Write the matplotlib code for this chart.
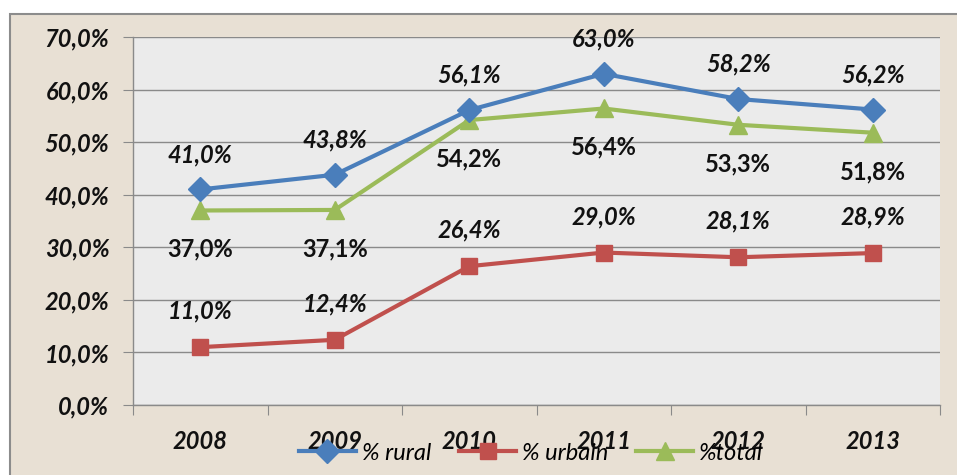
#!/usr/bin/env python3
"""
Rural / urban / total percentages 2008-2013, line chart with data labels.
"""

import matplotlib
matplotlib.use("Agg")
import matplotlib.pyplot as plt
from matplotlib.patches import Rectangle
from matplotlib.ticker import FixedLocator

# data
years = ["2008", "2009", "2010", "2011", "2012", "2013"]
rural = [41.0, 43.8, 56.1, 63.0, 58.2, 56.2]
urban = [11.0, 12.4, 26.4, 29.0, 28.1, 28.9]
total = [37.0, 37.1, 54.2, 56.4, 53.3, 51.8]
series_names = ["% rural", "% urbain", "%total"]
y_ticks = [0, 10, 20, 30, 40, 50, 60, 70]

BLUE = "#4a7ebb"
RED = "#c0504d"
GREEN = "#9bbb59"
BEIGE = "#e8e0d4"
PLOT_BG = "#ebebeb"
GRID = "#8a8a8a"
TXT = "#111111"
FS = 17

plt.rcParams["font.family"] = ["Lato", "DejaVu Sans"]


def pct(v):
    return f"{v:.1f}%".replace(".", ",")


W, H = 957, 475
fig = plt.figure(figsize=(W / 100, H / 100), dpi=100)
fig.patch.set_facecolor("white")

# outer chart frame, kept behind the axes (right and bottom edges run off the image)
fig.patches.append(Rectangle((10 / W, -0.05), 1.2, 1.05 - 14 / H, transform=fig.transFigure,
                             facecolor=BEIGE, edgecolor="#8c8c8c", linewidth=1.5,
                             zorder=-10))

ax = fig.add_axes([133 / W, 1 - 405 / H, 807 / W, 368 / H])
ax.set_zorder(1)
ax.set_facecolor(PLOT_BG)

x = list(range(len(years)))
ax.plot(x, rural, color=BLUE, lw=3, marker="D", ms=12, label=series_names[0], zorder=4)
ax.plot(x, urban, color=RED, lw=3, marker="s", ms=12, label=series_names[1], zorder=4)
ax.plot(x, total, color=GREEN, lw=3, marker="^", ms=13, label=series_names[2], zorder=3)

# data labels
for xi, v in zip(x, rural):
    ax.annotate(pct(v), (xi, v), xytext=(0, 25), textcoords="offset points",
                ha="center", va="center", fontsize=FS, fontweight="bold",
                style="italic", color=TXT)
for xi, v in zip(x, urban):
    ax.annotate(pct(v), (xi, v), xytext=(0, 26), textcoords="offset points",
                ha="center", va="center", fontsize=FS, fontweight="bold",
                style="italic", color=TXT)
for xi, v in zip(x, total):
    ax.annotate(pct(v), (xi, v), xytext=(0, -28), textcoords="offset points",
                ha="center", va="center", fontsize=FS, fontweight="bold",
                color=TXT)

ax.set_xlim(-0.5, len(years) - 0.5)
ax.set_ylim(0, 70)

# y axis
ax.set_yticks(y_ticks)
ax.set_yticklabels([pct(t) for t in y_ticks], fontsize=FS, fontweight="bold",
                   style="italic", color=TXT)
ax.yaxis.grid(True, color=GRID, lw=1)
ax.set_axisbelow(True)

# x axis: ticks between categories, labels at categories
ax.xaxis.set_major_locator(FixedLocator([i - 0.5 for i in range(len(years) + 1)]))
ax.xaxis.set_minor_locator(FixedLocator(x))
ax.set_xticklabels([""] * (len(years) + 1))
ax.set_xticklabels(years, minor=True, fontsize=FS, fontweight="bold",
                   style="italic", color=TXT)
ax.tick_params(axis="x", which="major", length=7, color=GRID, direction="out")
ax.tick_params(axis="x", which="minor", length=0, pad=18)
ax.tick_params(axis="y", length=7, color=GRID, pad=10)

for side in ["top", "right"]:
    ax.spines[side].set_visible(False)
for side in ["left", "bottom"]:
    ax.spines[side].set_color(GRID)
    ax.spines[side].set_linewidth(1)

leg = fig.legend(loc="center", bbox_to_anchor=(531 / W, 1 - 453 / H), ncol=3,
                 frameon=False, handlelength=2.4, handletextpad=0.25,
                 columnspacing=1.2, prop={"size": FS, "style": "italic"})
leg.set_zorder(5)

fig.savefig("out.png", dpi=100)
